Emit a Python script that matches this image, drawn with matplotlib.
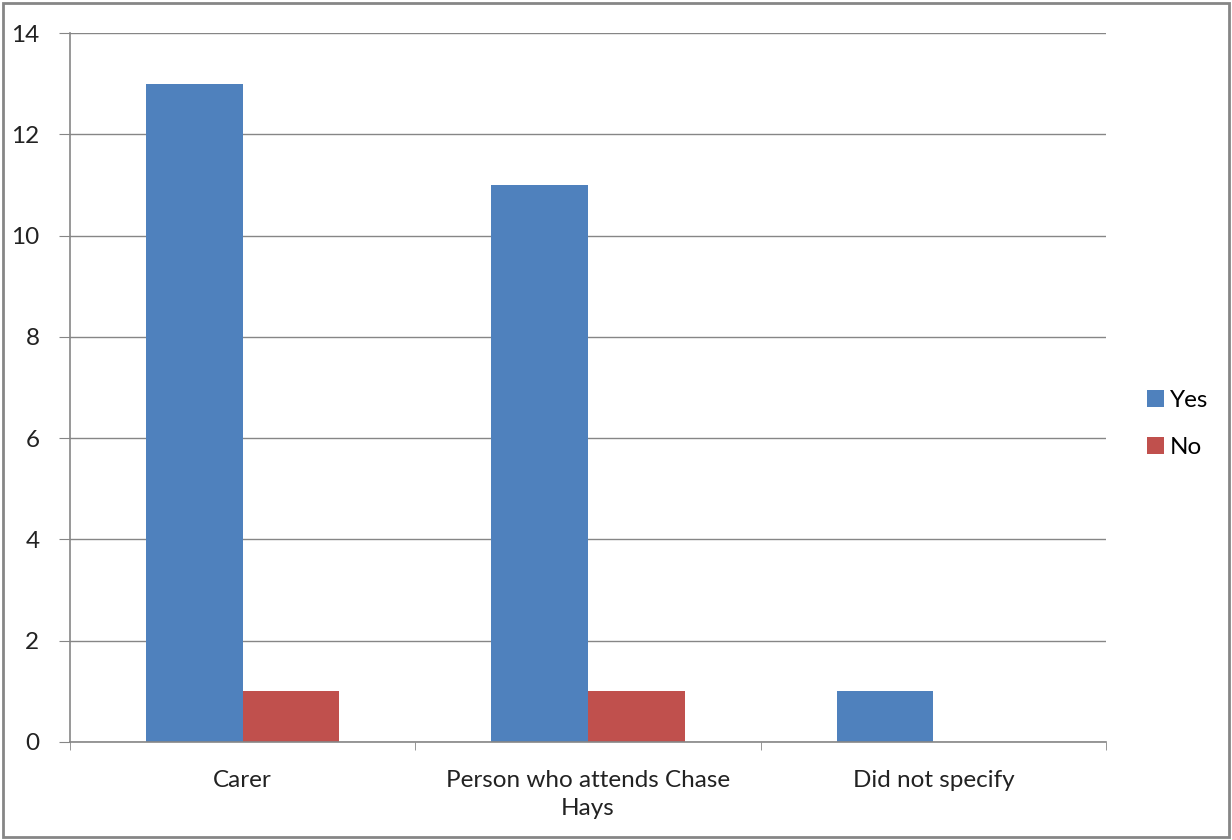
import matplotlib
matplotlib.use("Agg")
import matplotlib.pyplot as plt
import numpy as np

categories = ["Carer", "Person who attends Chase\nHays", "Did not specify"]
yes = [13, 11, 1]
no = [1, 1, 0]

plt.rcParams["font.family"] = ["Lato", "DejaVu Sans"]

blue = "#4f81bd"
red = "#c0504d"
grey = "#868686"
fs = 17.5

fig = plt.figure(figsize=(12.32, 8.4), dpi=100)
ax = fig.add_axes([70 / 1232, 1 - 742 / 840, (1106 - 70) / 1232, (742 - 33) / 840])

x = np.arange(len(categories))
w = 0.28
ax.bar(x - w / 2, yes, w, color=blue, label="Yes")
ax.bar(x + w / 2, no, w, color=red, label="No")

ax.set_xlim(-0.5, 2.5)
ax.set_ylim(0, 14)
ax.set_yticks(range(0, 15, 2))
ax.yaxis.grid(True, color=grey, linewidth=1)
ax.set_axisbelow(True)

ax.set_xticks(x)
ax.set_xticklabels(categories, fontsize=fs, color="#222222", linespacing=1.4)
ax.tick_params(axis="x", length=0, pad=20)
ax.set_xticks([-0.5, 0.5, 1.5, 2.5], minor=True)
ax.tick_params(axis="x", which="minor", length=6, color=grey, direction="out")
ax.tick_params(axis="y", length=8, color=grey, labelsize=fs, labelcolor="#222222", pad=14)

for side in ["top", "right"]:
    ax.spines[side].set_visible(False)
for side in ["left", "bottom"]:
    ax.spines[side].set_color(grey)
    ax.spines[side].set_linewidth(1.2)

fig.legend(loc="center left", bbox_to_anchor=(1125 / 1232, 1 - 424 / 840),
           frameon=False, fontsize=fs, handlelength=0.7, handleheight=0.7,
           handletextpad=0.25, labelspacing=1.05)

# outer frame around the whole chart
fig.patches.append(plt.Rectangle((3 / 1232, 3 / 840), 1 - 6 / 1232, 1 - 6 / 840,
                                 transform=fig.transFigure, fill=False,
                                 edgecolor=grey, linewidth=2))

fig.savefig("out.png", dpi=100)
